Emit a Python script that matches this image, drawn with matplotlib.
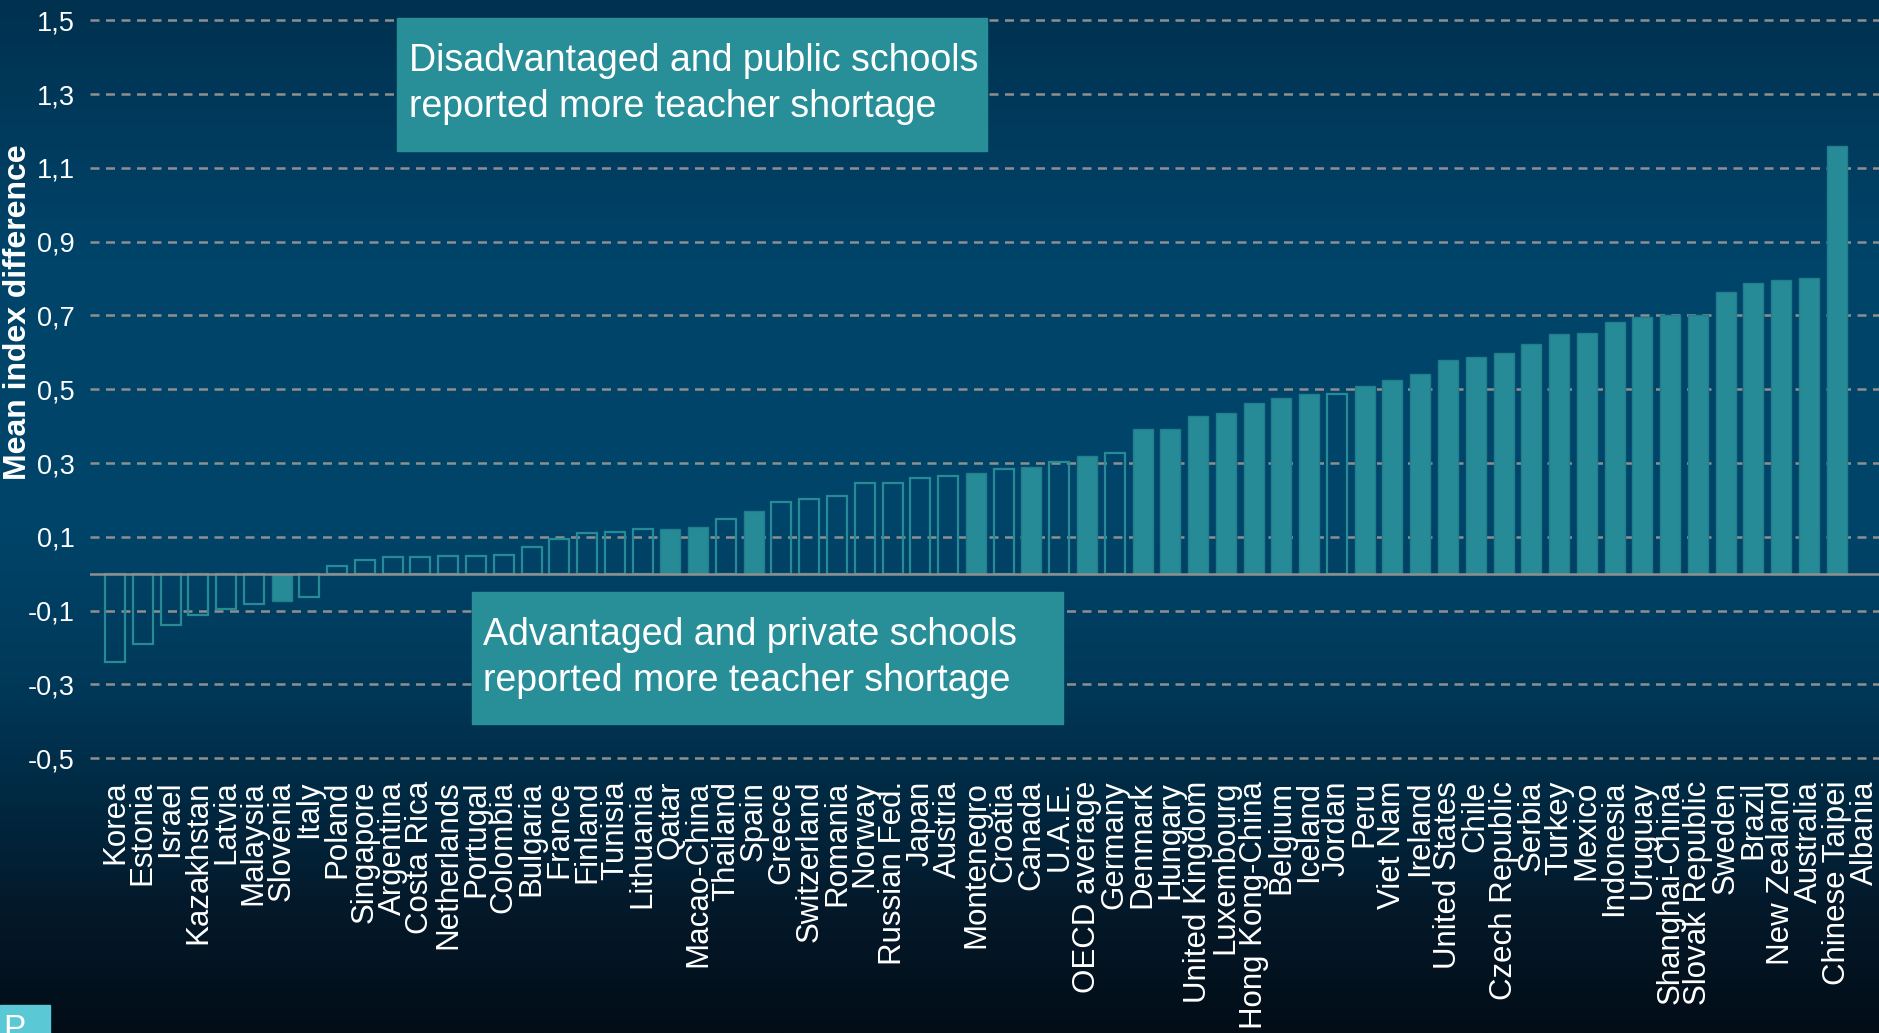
import numpy as np
import matplotlib
matplotlib.use("Agg")
import matplotlib.pyplot as plt
from matplotlib.colors import LinearSegmentedColormap
from matplotlib.patches import Rectangle

countries = [
    "Korea", "Estonia", "Israel", "Kazakhstan", "Latvia", "Malaysia", "Slovenia",
    "Italy", "Poland", "Singapore", "Argentina", "Costa Rica", "Netherlands",
    "Portugal", "Colombia", "Bulgaria", "France", "Finland", "Tunisia", "Lithuania",
    "Qatar", "Macao-China", "Thailand", "Spain", "Greece", "Switzerland", "Romania",
    "Norway", "Russian Fed.", "Japan", "Austria", "Montenegro", "Croatia", "Canada",
    "U.A.E.", "OECD average", "Germany", "Denmark", "Hungary", "United Kingdom",
    "Luxembourg", "Hong Kong-China", "Belgium", "Iceland", "Jordan", "Peru",
    "Viet Nam", "Ireland", "United States", "Chile", "Czech Republic", "Serbia",
    "Turkey", "Mexico", "Indonesia", "Uruguay", "Shanghai-China", "Slovak Republic",
    "Sweden", "Brazil", "New Zealand", "Australia", "Chinese Taipei", "Albania",
]

# mean index difference (disadvantaged/public minus advantaged/private)
mean_diff = [
    -0.239, -0.190, -0.140, -0.113, -0.095, -0.081, -0.075,
    -0.063, 0.022, 0.037, 0.044, 0.044, 0.048,
    0.048, 0.051, 0.073, 0.095, 0.109, 0.113, 0.122,
    0.121, 0.127, 0.148, 0.170, 0.194, 0.203, 0.210,
    0.246, 0.247, 0.260, 0.266, 0.272, 0.285, 0.290,
    0.303, 0.318, 0.328, 0.392, 0.393, 0.427,
    0.435, 0.464, 0.475, 0.486, 0.488, 0.508,
    0.526, 0.542, 0.578, 0.588, 0.597, 0.623,
    0.650, 0.652, 0.681, 0.697, 0.700, 0.702,
    0.763, 0.789, 0.795, 0.802, 1.159, np.nan,
]

# True where the difference is statistically significant (solid bar)
significant = [
    False, False, False, False, False, False, True,
    False, False, False, False, False, False,
    False, False, False, False, False, False, False,
    True, True, False, True, False, False, False,
    False, False, False, False, True, False, True,
    False, True, False, True, True, True,
    True, True, True, True, False, True,
    True, True, True, True, True, True,
    True, True, True, True, True, True,
    True, True, True, True, True, False,
]

y_ticks = [-0.5, -0.3, -0.1, 0.1, 0.3, 0.5, 0.7, 0.9, 1.1, 1.3, 1.5]

TEAL = "#268b96"
BOX = "#288e98"
GRID = "#8f8f8f"

plt.rcParams["font.family"] = ["Liberation Sans", "DejaVu Sans"]

fig = plt.figure(figsize=(18.79, 10.33), dpi=100)

# dark blue background gradient behind everything
bg = fig.add_axes([0, 0, 1, 1], zorder=-10)
bg_cmap = LinearSegmentedColormap.from_list("bg", [
    (0.00, "#00314f"),
    (0.25, "#00446a"),
    (0.50, "#00456a"),
    (0.65, "#003a5b"),
    (0.76, "#002b45"),
    (0.88, "#04192a"),
    (1.00, "#020d17"),
])
bg.imshow(np.linspace(0, 1, 512).reshape(-1, 1), aspect="auto", cmap=bg_cmap,
          extent=[0, 1, 0, 1])
bg.set_axis_off()

ax = fig.add_axes([90 / 1879, 0.2483, 1 - 90 / 1879, 0.7498])
ax.set_facecolor("none")

x = np.arange(len(countries))
vals = np.array(mean_diff, dtype=float)
sig = np.array(significant)

ax.bar(x[sig], vals[sig], width=0.72, color=TEAL, edgecolor="#217f8c",
       linewidth=1.0, zorder=3)
ax.bar(x[~sig], vals[~sig], width=0.72, facecolor="none", edgecolor=TEAL,
       linewidth=1.6, zorder=3)

for t in y_ticks:
    ax.axhline(t, color=GRID, linewidth=1.8, dashes=(3.6, 2.6), zorder=1)
ax.axhline(0, color=GRID, linewidth=1.8, zorder=4)

ax.set_xlim(-0.9, len(countries) - 0.48)
ax.set_ylim(-0.55, 1.55)

ax.set_yticks(y_ticks)
ax.set_yticklabels([f"{t:.1f}".replace(".", ",") for t in y_ticks],
                   color="white", fontsize=19.5)
ax.set_xticks(x)
ax.set_xticklabels(countries, rotation=90, color="white", fontsize=22.5)
ax.tick_params(axis="y", length=0, pad=11)
ax.tick_params(axis="x", length=0, pad=3)
for s in ax.spines.values():
    s.set_visible(False)

fig.text(0.0096, 1 - 312 / 1033, "Mean index difference", rotation=90,
         color="white", fontsize=23, fontweight="bold", ha="center", va="center")

# annotation boxes
fig.patches.append(Rectangle((397 / 1879, 1 - 151 / 1033), 590 / 1879, 133 / 1033,
                             transform=fig.transFigure, color=BOX, zorder=5))
fig.text(409 / 1879, 1 - 84 / 1033,
         "Disadvantaged and public schools\nreported more teacher shortage",
         color="white", fontsize=27, ha="left", va="center", linespacing=1.35,
         zorder=6)

fig.patches.append(Rectangle((472 / 1879, 1 - 724 / 1033), 591 / 1879, 132 / 1033,
                             transform=fig.transFigure, color=BOX, zorder=5))
fig.text(483 / 1879, 1 - 658 / 1033,
         "Advantaged and private schools\nreported more teacher shortage",
         color="white", fontsize=27, ha="left", va="center", linespacing=1.35,
         zorder=6)

# small tab in the lower left corner
fig.patches.append(Rectangle((0, 0), 50 / 1879, 28 / 1033,
                             transform=fig.transFigure, color="#5bc8d5", zorder=5))
fig.text(3 / 1879, -12 / 1033, "P", color="white", fontsize=24, ha="left",
         va="bottom", zorder=6)

fig.savefig("out.png", dpi=100)
